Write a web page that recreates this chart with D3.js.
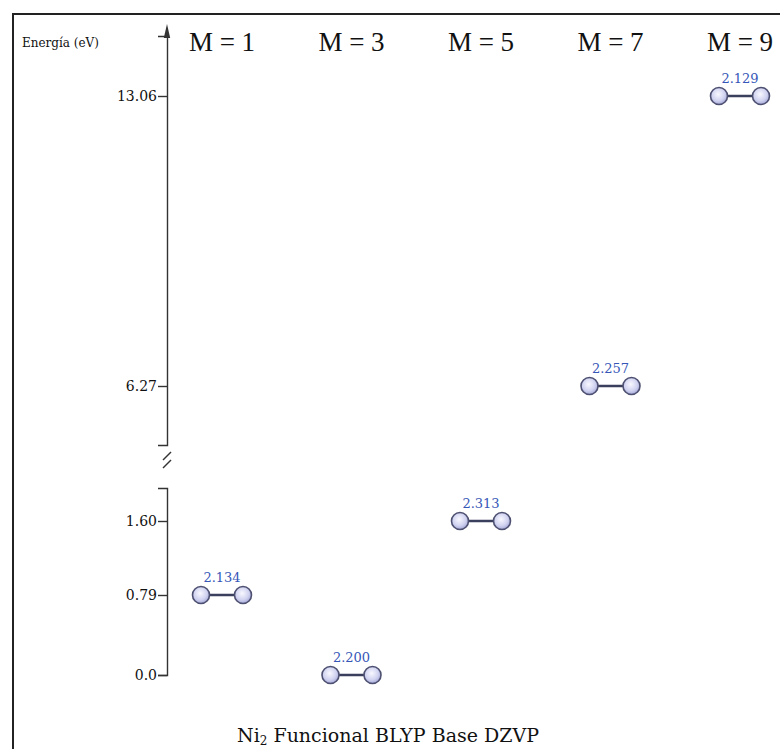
<!DOCTYPE html>
<html>
<head>
<meta charset="utf-8">
<script src="https://cdn.jsdelivr.net/npm/d3@7/dist/d3.min.js"></script>
<style>
  html, body { margin: 0; padding: 0; background: #fff; }
  svg { display: block; }
</style>
</head>
<body>
<svg id="chart" width="780" height="749"></svg>
<script>
// Spin multiplicities of Ni2 and their relative energies (eV)
const multiplicities = [1, 3, 5, 7, 9];
const energies = [0.79, 0.0, 1.60, 6.27, 13.06];
// Ni–Ni bond length for each multiplicity
const bondLengths = ["2.134", "2.200", "2.313", "2.257", "2.129"];
// Axis ticks: lower (unbroken) part and upper part above the break
const lowerTicks = [0.0, 0.79, 1.60];
const lowerTickLabels = ["0.0", "0.79", "1.60"];
const upperTicks = [6.27, 13.06];
const upperTickLabels = ["6.27", "13.06"];

const svg = d3.select("#chart");
const serif = "'Liberation Serif', 'DejaVu Serif', serif";
const wideSerif = "'DejaVu Serif', serif";

// Frame
svg.append("path")
  .attr("d", "M13,760 L13,14 L790,14")
  .attr("fill", "none")
  .attr("stroke", "#222")
  .attr("stroke-width", 2);

const axisX = 167;

// Two pieces of a broken energy axis
const yLow = d3.scaleLinear().domain([0, 0.79, 1.60]).range([675, 595, 521]);
const yHigh = d3.scaleLinear().domain([6.27, 13.06]).range([386, 96]);
const yOf = v => (v < 4 ? yLow(v) : yHigh(v));

const x = d3.scalePoint().domain(multiplicities).range([222, 740]);

// Upper axis segment with arrow
const upperAxisScale = d3.scaleLinear()
  .domain([yHigh.invert(445), yHigh.invert(36)]).range([445, 36]);
const gUp = svg.append("g")
  .attr("transform", `translate(${axisX},0)`)
  .call(d3.axisLeft(upperAxisScale)
    .tickValues(upperTicks)
    .tickFormat((d, i) => upperTickLabels[i])
    .tickSizeOuter(0)
    .tickSize(9)
    .tickPadding(1));

// Lower axis segment
const lowerAxisScale = d3.scaleLinear()
  .domain([0, 0.79, 1.60, 1.60 + (521 - 488) / 92]).range([675, 595, 521, 488]);
const gLow = svg.append("g")
  .attr("transform", `translate(${axisX},0)`)
  .call(d3.axisLeft(lowerAxisScale)
    .tickValues(lowerTicks)
    .tickFormat((d, i) => lowerTickLabels[i])
    .tickSizeOuter(0)
    .tickSize(9)
    .tickPadding(1));

[gUp, gLow].forEach(g => {
  g.select(".domain").attr("stroke", "#333").attr("stroke-width", 1.4);
  g.selectAll(".tick line").attr("stroke", "#333").attr("stroke-width", 1.4);
  g.selectAll(".tick text")
    .attr("font-family", wideSerif)
    .attr("font-size", 14)
    .attr("fill", "#111");
});

// Arrow head
svg.append("path")
  .attr("d", `M${axisX},24 L${axisX - 3.2},38 L${axisX + 3.2},38 Z`)
  .attr("fill", "#333");

// Axis break marks
svg.append("g").attr("stroke", "#333").attr("stroke-width", 1.4)
  .selectAll("line").data([455, 463]).join("line")
  .attr("x1", axisX - 4).attr("x2", axisX + 4)
  .attr("y1", d => d + 5).attr("y2", d => d - 3);

// Axis title
svg.append("text")
  .attr("x", 22).attr("y", 47)
  .attr("font-family", wideSerif).attr("font-size", 12).attr("fill", "#111")
  .text("Energía  (eV)");

// Column headers
svg.append("g").selectAll("text").data(multiplicities).join("text")
  .attr("x", d => x(d)).attr("y", 51)
  .attr("text-anchor", "middle")
  .attr("font-family", serif).attr("font-size", 27).attr("fill", "#111")
  .text(d => `M = ${d}`);

// Atom shading
const grad = svg.append("defs").append("radialGradient")
  .attr("id", "atom").attr("cx", "45%").attr("cy", "40%").attr("r", "65%");
grad.append("stop").attr("offset", "0%").attr("stop-color", "#f8f8ff");
grad.append("stop").attr("offset", "60%").attr("stop-color", "#d0d2f0");
grad.append("stop").attr("offset", "100%").attr("stop-color", "#9a9dd0");

// Ni2 dimers placed at their energy level
const rows = multiplicities.map((m, i) => ({ m, e: energies[i], r: bondLengths[i] }));
const mol = svg.append("g").selectAll("g").data(rows).join("g")
  .attr("transform", d => `translate(${x(d.m)},${yOf(d.e)})`);

mol.append("line")
  .attr("x1", -20).attr("x2", 20).attr("y1", 0).attr("y2", 0)
  .attr("stroke", "#3b3f5e").attr("stroke-width", 2.6);

mol.selectAll("circle").data([-21, 21]).join("circle")
  .attr("cx", d => d).attr("cy", 0).attr("r", 8.5)
  .attr("fill", "url(#atom)")
  .attr("stroke", "#4d5070").attr("stroke-width", 1.6);

mol.append("text")
  .attr("x", 0).attr("y", -13)
  .attr("text-anchor", "middle")
  .attr("font-family", wideSerif).attr("font-size", 13).attr("fill", "#3657b8")
  .text(d => d.r);

// Caption
const cap = svg.append("text")
  .attr("x", 388).attr("y", 742)
  .attr("text-anchor", "middle")
  .attr("font-family", wideSerif).attr("font-size", 19).attr("fill", "#111");
cap.append("tspan").text("Ni");
cap.append("tspan").attr("font-size", 12).attr("dy", 3).text("2");
cap.append("tspan").attr("dy", -3).text(" Funcional BLYP Base DZVP");
</script>
</body>
</html>
